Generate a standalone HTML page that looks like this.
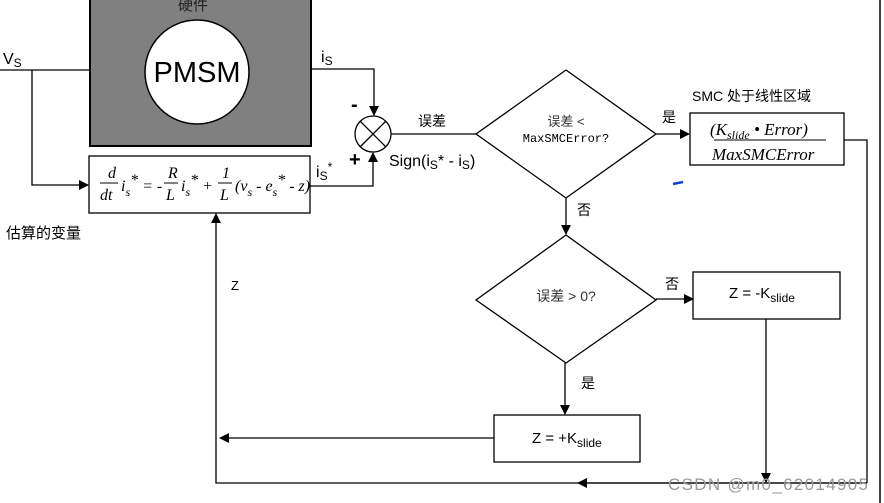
<!DOCTYPE html>
<html><head><meta charset="utf-8"><style>
html,body{margin:0;padding:0;background:#fff;}
svg{display:block;}
text{font-family:"Liberation Sans","Noto Sans CJK SC",sans-serif;}
.s{font-family:"Liberation Serif","Noto Serif CJK SC",serif;font-style:italic;}
</style></head><body>
<svg width="884" height="503" viewBox="0 0 884 503" xmlns="http://www.w3.org/2000/svg">
<defs>
<marker id="a" markerWidth="10" markerHeight="10" refX="9" refY="5" orient="auto" markerUnits="userSpaceOnUse"><path d="M0,0 L10,5 L0,10 z" fill="#000"/></marker>
</defs>
<g stroke="#000" stroke-width="1.3" fill="none">
<rect x="90" y="-2" width="221" height="148" fill="#808080" stroke-width="2"/>
<circle cx="197" cy="72" r="52" fill="#fff" stroke-width="1.5"/>
<rect x="89" y="156" width="221" height="57" fill="#fff"/>
<line x1="0" y1="70" x2="90" y2="70"/>
<polyline points="32,70 32,185 88,185" marker-end="url(#a)"/>
<polyline points="311,69 374,69 374,115" marker-end="url(#a)"/>
<polyline points="310,186 373,186 373,153" marker-end="url(#a)"/>
<circle cx="373" cy="134" r="18" fill="#fff"/>
<line x1="360" y1="121" x2="386" y2="147"/><line x1="386" y1="121" x2="360" y2="147"/>
<line x1="391" y1="134" x2="476" y2="134"/>
<polygon points="566,70 656,134 566,198 476,134" fill="#fff"/>
<line x1="656" y1="134" x2="689" y2="134" marker-end="url(#a)"/>
<rect x="690" y="113" width="154" height="52"/>
<line x1="714" y1="140" x2="826" y2="140" stroke-width="1"/>
<polyline points="844,140 867,140 867,483"/>
<line x1="566" y1="198" x2="566" y2="234" marker-end="url(#a)"/>
<polygon points="566,235 656,300 566,363 476,300" fill="#fff"/>
<line x1="656" y1="299" x2="693" y2="299" marker-end="url(#a)"/>
<rect x="693" y="272" width="147" height="47"/>
<line x1="766" y1="319" x2="766" y2="482" marker-end="url(#a)"/>
<line x1="565" y1="363" x2="565" y2="414" marker-end="url(#a)"/>
<rect x="494" y="415" width="146" height="47"/>
<line x1="494" y1="438" x2="220" y2="438" marker-end="url(#a)"/>
<polyline points="867,483 216,483 216,214" marker-end="url(#a)"/>
<line x1="867" y1="483" x2="578" y2="483" marker-end="url(#a)"/>
<line x1="880" y1="0" x2="880" y2="503" stroke-width="1.5"/>
</g>
<text x="178" y="10" font-size="15" fill="#222">硬件</text>
<text x="197" y="82" font-size="29" text-anchor="middle">PMSM</text>
<text x="3" y="64" font-size="16">V<tspan font-size="12" dy="3">S</tspan></text>
<text x="321" y="62" font-size="16">i<tspan font-size="12" dy="3">S</tspan></text>
<text x="316" y="177" font-size="16">i<tspan font-size="12" dy="3">S</tspan><tspan font-size="12" dy="-9">*</tspan></text>
<text x="351" y="111" font-size="20" font-weight="bold">-</text>
<text x="349" y="166" font-size="20" font-weight="bold">+</text>
<text x="418" y="126" font-size="14">误差</text>
<text x="389" y="166" font-size="16">Sign(i<tspan font-size="12" dy="3">S</tspan><tspan dy="-3">* - i</tspan><tspan font-size="12" dy="3">S</tspan><tspan dy="-3">)</tspan></text>
<text x="6" y="238" font-size="15">估算的变量</text>
<text x="231" y="290" font-size="13">Z</text>
<g font-size="16">
<text x="108" y="178" class="s">d</text><line x1="100" y1="183" x2="118" y2="183" stroke="#000"/><text x="100" y="200" class="s">dt</text>
<text x="121" y="191" class="s">i<tspan font-size="12" dy="5">s</tspan><tspan dy="-11">*</tspan><tspan dy="6"> = -</tspan></text>
<text x="168" y="178" class="s">R</text><line x1="164" y1="183" x2="178" y2="183" stroke="#000"/><text x="166" y="200" class="s">L</text>
<text x="181" y="191" class="s">i<tspan font-size="12" dy="5">s</tspan><tspan dy="-11">*</tspan><tspan dy="6"> +</tspan></text>
<text x="222" y="178" class="s">1</text><line x1="218" y1="183" x2="232" y2="183" stroke="#000"/><text x="220" y="200" class="s">L</text>
<text x="235" y="191" class="s">(v<tspan font-size="12" dy="5">s</tspan><tspan dy="-5"> - e</tspan><tspan font-size="12" dy="5">s</tspan><tspan dy="-11">*</tspan><tspan dy="6"> - z)</tspan></text>
</g>
<text x="566" y="126" font-size="13" text-anchor="middle" fill="#333">误差 &lt;</text>
<text x="566" y="142" font-size="12" text-anchor="middle" style="font-family:'Liberation Mono',monospace">MaxSMCError?</text>
<text x="662" y="122" font-size="14">是</text>
<text x="692" y="101" font-size="14">SMC 处于线性区域</text>
<text x="710" y="135" font-size="17" class="s" font-style="normal">(<tspan font-style="italic">K</tspan><tspan font-size="12" dy="4" font-style="italic">slide</tspan><tspan dy="-4"> • </tspan><tspan font-style="italic">Error</tspan>)</text>
<text x="712" y="160" font-size="17" class="s">MaxSMCError</text>
<text x="577" y="215" font-size="14">否</text>
<text x="566" y="301" font-size="14" text-anchor="middle" fill="#333">误差 &gt; 0?</text>
<text x="665" y="289" font-size="14">否</text>
<text x="729" y="298" font-size="15">Z = -K<tspan font-size="12" dy="4">slide</tspan></text>
<text x="581" y="388" font-size="14">是</text>
<text x="532" y="443" font-size="15">Z = +K<tspan font-size="12" dy="4">slide</tspan></text>
<text x="668" y="490" font-size="17" fill="#999" textLength="200">CSDN @m0_62014905</text>
<line x1="673" y1="184" x2="683" y2="182" stroke="#1a3fd0" stroke-width="2.5"/>
</svg>
</body></html>
